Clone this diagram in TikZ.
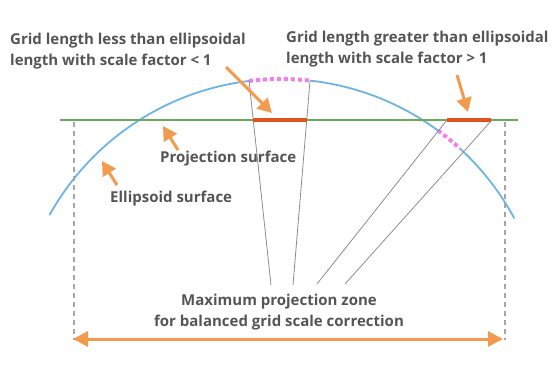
\documentclass[tikz,border=0pt]{standalone}
\usepackage{fontspec}
\setmainfont{Open Sans}
\usetikzlibrary{arrows.meta}
\definecolor{arcblue}{HTML}{6CB4E4}
\definecolor{projgreen}{HTML}{6AAA5A}
\definecolor{segred}{HTML}{E2521D}
\definecolor{dotpink}{HTML}{F07FF0}
\definecolor{rayg}{HTML}{8C8C8C}
\definecolor{dashg}{HTML}{A6A6A6}
\definecolor{arrorange}{HTML}{F29A4E}
\definecolor{txt}{HTML}{555555}
\tikzset{
  ellarc/.style={arcblue, line width=1.8pt},
  pinkdots/.style={dotpink, line width=4pt, dash pattern=on 4pt off 3pt},
  ray/.style={rayg, line width=0.8pt},
  zoneedge/.style={dashg, line width=1.8pt, dash pattern=on 5pt off 4pt},
  redseg/.style={segred, line width=4.5pt},
  pointer/.style={arrorange, line width=3pt, -{Triangle[length=14pt,width=15pt]}},
  zonearrow/.style={arrorange, line width=3pt, {Triangle[length=15pt,width=15pt]}-{Triangle[length=15pt,width=15pt]}},
  lbl/.style={txt, font=\fontsize{15}{21}\selectfont\bfseries, inner sep=0pt}
}
\begin{document}
\begin{tikzpicture}[x=1pt,y=-1pt]
\useasboundingbox (0,0) rectangle (560,370);
% ellipsoid surface
\draw[ellarc] plot[domain=209.1:263.06, samples=60] ({281+265*cos(\x)},{344+265*sin(\x)});
\draw[ellarc] plot[domain=276.28:306.33, samples=40] ({281+265*cos(\x)},{344+265*sin(\x)});
\draw[ellarc] plot[domain=312.49:331.7, samples=30] ({281+265*cos(\x)},{344+265*sin(\x)});
\draw[pinkdots] plot[domain=263.06:276.28, samples=20] ({281+265*cos(\x)},{344+265*sin(\x)});
\draw[pinkdots] plot[domain=306.33:312.49, samples=10] ({281+265*cos(\x)},{344+265*sin(\x)});
% projection surface
\coordinate (pl) at (60,120);
\coordinate (pr) at (518,120);
\draw[projgreen, line width=1.5pt] (pl) -- (pr);
% zone edges
\coordinate (zl1) at (74,122);
\coordinate (zl2) at (74,340);
\coordinate (zr1) at (505,122);
\coordinate (zr2) at (505,340);
\draw[zoneedge] (zl1) -- (zl2);
\draw[zoneedge] (zr1) -- (zr2);
% rays
\coordinate (a1) at (249,80.5);
\coordinate (a2) at (271,285);
\coordinate (b1) at (310,80.8);
\coordinate (b2) at (293,285);
\coordinate (c1) at (447,120);
\coordinate (c2) at (317,284);
\coordinate (d1) at (492,120);
\coordinate (d2) at (345,284);
\draw[ray] (a1) -- (a2);
\draw[ray] (b1) -- (b2);
\draw[ray] (c1) -- (c2);
\draw[ray] (d1) -- (d2);
% grid segments
\coordinate (s1) at (253.3,120);
\coordinate (s2) at (307,120);
\coordinate (t1) at (447,120);
\coordinate (t2) at (491,120);
\draw[redseg] (s1) -- (s2);
\draw[redseg] (t1) -- (t2);
% labels
\node[lbl, anchor=west, align=left] (lless) at (10,51) {Grid length less than ellipsoidal\\length with scale factor < 1};
\node[lbl, anchor=west, align=left] (lgreat) at (286,49.5) {Grid length greater than ellipsoidal\\length with scale factor > 1};
\node[lbl, anchor=west] (lproj) at (160,159) {Projection surface};
\node[lbl, anchor=west] (lell) at (110,199) {Ellipsoid surface};
\node[lbl, align=center] (lzone) at (279,312.5) {Maximum projection zone\\for balanced grid scale correction};
% pointers
\coordinate (p1s) at (226,67);
\coordinate (p1e) at (272,113);
\coordinate (p2s) at (457,75);
\coordinate (p2e) at (468,112);
\coordinate (p3s) at (178,150);
\coordinate (p3e) at (163,126);
\coordinate (p4s) at (117,185);
\coordinate (p4e) at (102,161);
\draw[pointer] (p1s) -- (p1e);
\draw[pointer] (p2s) -- (p2e);
\draw[pointer] (p3s) -- (p3e);
\draw[pointer] (p4s) -- (p4e);
% zone arrow
\coordinate (zal) at (73,339);
\coordinate (zar) at (503,339);
\draw[zonearrow] (zal) -- (zar);
\end{tikzpicture}
\end{document}
